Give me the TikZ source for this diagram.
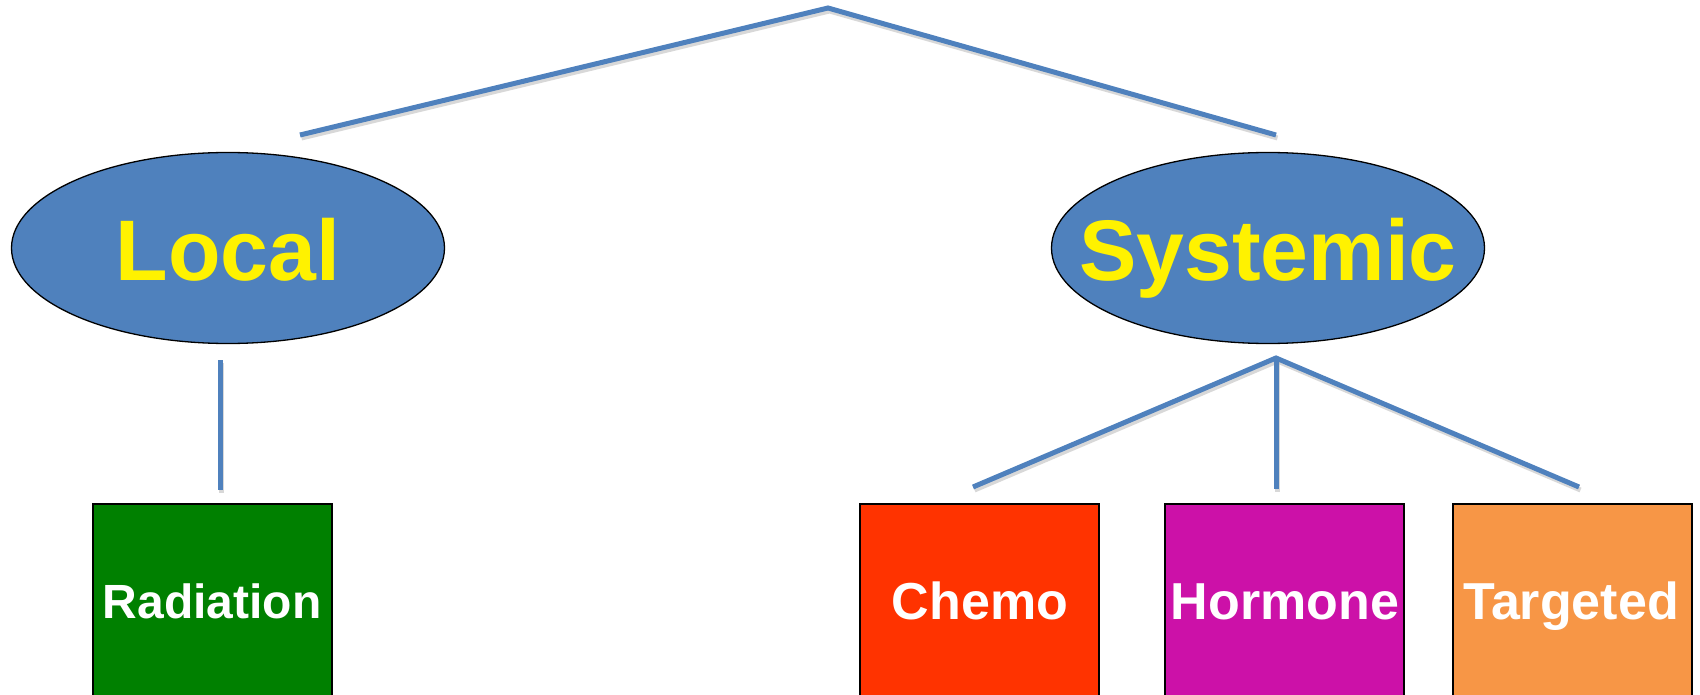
\documentclass[tikz,border=0pt]{standalone}
\usepackage{fontspec}
\setmainfont{Liberation Sans}
\usetikzlibrary{shapes.geometric}
\definecolor{lineblue}{HTML}{4F81BD}
\definecolor{radgreen}{HTML}{008000}
\definecolor{chemored}{HTML}{FF3300}
\definecolor{hormmag}{HTML}{CC11A8}
\definecolor{targorange}{HTML}{F79646}
\begin{document}
\begin{tikzpicture}[x=1pt,y=-1pt,
  conn/.style={draw=lineblue,line width=5pt},
  shad/.style={draw=black!30,line width=5pt,opacity=0.5,transform canvas={xshift=1.5pt,yshift=-3pt}},
  oval/.style={ellipse,draw=black,line width=1.3pt,fill=lineblue,minimum width=433pt,minimum height=191pt,inner sep=0pt},
  ovaltext/.style={text=yellow,font=\bfseries\fontsize{86}{86}\selectfont,anchor=base,inner sep=0pt},
  catbox/.style={rectangle,draw=black,line width=2pt,minimum width=239pt,minimum height=215pt,anchor=north,inner sep=0pt},
  cattext/.style={text=white,font=\bfseries\fontsize{52}{52}\selectfont,anchor=base,inner sep=0pt}]
\useasboundingbox (0,0) rectangle (1700,695);
\clip (0,0) rectangle (1700,695);
% coordinates for connector ends
\coordinate (apex) at (828,8);
\coordinate (lend) at (300,135);
\coordinate (rend) at (1276,135);
\coordinate (ltop) at (220,360);
\coordinate (lbot) at (220,490);
\coordinate (sapex) at (1276,358);
\coordinate (s1) at (973,487);
\coordinate (s2) at (1276,489);
\coordinate (s3) at (1579,487);
% shadows
\draw[shad] (lend) -- (apex) -- (rend);
\draw[shad] (ltop) -- (lbot);
\draw[shad] (s1) -- (sapex) -- (s3);
\draw[shad] (sapex) -- (s2);
% connectors
\draw[conn] (lend) -- (apex) -- (rend);
\draw[conn] (ltop) -- (lbot);
\draw[conn] (s1) -- (sapex) -- (s3);
\draw[conn] (sapex) -- (s2);
% ellipses
\node[oval] (local) at (228,248) {};
\node[oval] (systemic) at (1268,248) {};
\node[ovaltext] (localtext) at (228,280) {Local};
\node[ovaltext] (systemictext) at (1268,280) {Systemic};
% boxes
\node[catbox,fill=radgreen] (radbox) at (212,503) {};
\node[catbox,fill=chemored] (chemobox) at (979.5,503) {};
\node[catbox,fill=hormmag] (hormbox) at (1284,503) {};
\node[catbox,fill=targorange] (targbox) at (1572,503) {};
\node[cattext,font=\bfseries\fontsize{48}{48}\selectfont] (radtext) at (212,618) {Radiation};
\node[cattext] (chemotext) at (980,619) {Chemo};
\node[cattext] (hormtext) at (1285,619) {Hormone};
\node[cattext] (targtext) at (1571,619) {Targeted};
\end{tikzpicture}
\end{document}
